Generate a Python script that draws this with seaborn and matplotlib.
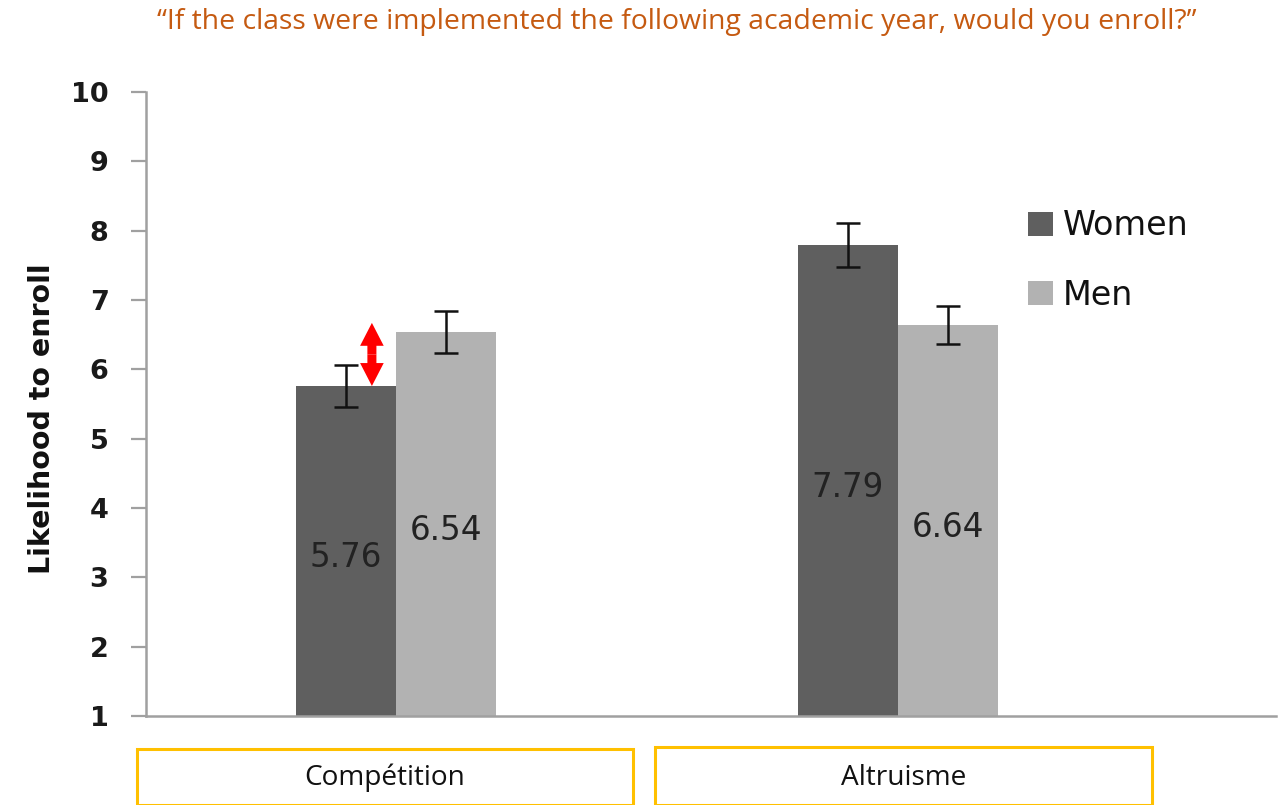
import matplotlib
matplotlib.use("Agg")
import matplotlib.pyplot as plt
import seaborn as sns
import pandas as pd
from matplotlib.patches import Rectangle

categories = ["Compétition", "Altruisme"]
groups = ["Women", "Men"]
women = [5.76, 7.79]
men = [6.54, 6.64]
women_err = [0.30, 0.32]
men_err = [0.30, 0.27]
yticks = [1, 2, 3, 4, 5, 6, 7, 8, 9, 10]
title = "\u201cIf the class were implemented the following academic year, would you enroll?\u201d"
ylabel = "Likelihood to enroll"

sns.set_style("white")
plt.rcParams["font.family"] = ["DejaVu Sans"]

df = pd.DataFrame({
    "cat": categories * 2,
    "grp": [groups[0]] * 2 + [groups[1]] * 2,
    "val": women + men,
    "err": women_err + men_err,
})

fig = plt.figure(figsize=(12.86, 8.05), dpi=100)
ax = fig.add_axes([146 / 1286, 1 - 716 / 805, 1130 / 1286, 624 / 805])

palette = {"Women": "#5F5F5F", "Men": "#B2B2B2"}
sns.barplot(data=df, x="cat", y="val", hue="grp", hue_order=groups, order=categories,
            palette=palette, width=0.4, errorbar=None, ax=ax, saturation=1,
            edgecolor="none", linewidth=0)

patches = [p for p in ax.patches if p.get_width() > 0 and p.get_height() > 0]
vals = women + men
errs = women_err + men_err
for p, v, e in zip(patches, vals, errs):
    cx = p.get_x() + p.get_width() / 2
    ax.errorbar(cx, v, yerr=e, fmt="none", ecolor="#111111", elinewidth=1.8,
                capsize=8.5, capthick=1.8)
    ax.text(cx, (1 + v) / 2 - 0.1, f"{v:.2f}", ha="center", va="center",
            fontsize=23.5, color="#222222")

ax.set_ylim(1, 10)
ax.set_xlim(-0.498, 1.753)
ax.set_yticks(yticks)
ax.set_yticklabels([str(t) for t in yticks], fontsize=19.5, fontweight="bold", color="#1a1a1a")
ax.set_xticks([])
ax.set_xlabel("")
ax.set_ylabel(ylabel, fontsize=20.5, fontweight="bold", color="#111111")
ax.yaxis.set_label_coords(-0.08, 0.476)
ax.tick_params(axis="y", length=11, width=1.6, color="#A0A0A0", direction="out", pad=16, left=True)
for s in ["top", "right"]:
    ax.spines[s].set_visible(False)
for s in ["left", "bottom"]:
    ax.spines[s].set_color("#A0A0A0")
    ax.spines[s].set_linewidth(1.8)

# red double arrow between Women bar top and slightly above Men level
arrow_x = 0 - 0.048
arrow_top = men[0] + 0.13
arrow_bot = women[0]
arrow_mid = (arrow_top + arrow_bot) / 2
for end in (arrow_top, arrow_bot):
    ax.annotate("", xy=(arrow_x, end), xytext=(arrow_x, arrow_mid),
                arrowprops=dict(arrowstyle="simple,head_length=1.65,head_width=1.7,tail_width=0.65",
                                mutation_scale=10, facecolor="#FF0000", edgecolor="none",
                                lw=0, shrinkA=0, shrinkB=0))

leg = ax.legend(loc="upper left", bbox_to_anchor=((1015 - 146) / 1130, (716 - 196) / 624),
                frameon=False, fontsize=24, handlelength=0.73, handleheight=0.73,
                handletextpad=0.3, labelspacing=1.1, borderaxespad=0)
for t in leg.get_texts():
    t.set_color("#111111")

fig.text(677 / 1286, 1 - 22 / 805, title, ha="center", va="center", fontsize=20.4,
         color="#C55A11", family="Open Sans")

boxes = [(137, 749, 633, 805), (655, 747, 1152, 805)]
for (x0, y0, x1, y1), lab in zip(boxes, categories):
    fig.patches.append(Rectangle((x0 / 1286, 1 - y1 / 805), (x1 - x0) / 1286, (y1 - y0) / 805,
                                 transform=fig.transFigure, fill=False,
                                 edgecolor="#FFC000", linewidth=2.2))
    fig.text((x0 + x1) / 2 / 1286, 1 - 778 / 805, lab, ha="center", va="center",
             fontsize=20.2, color="#111111", family="Open Sans")

fig.savefig("out.png", dpi=100)
